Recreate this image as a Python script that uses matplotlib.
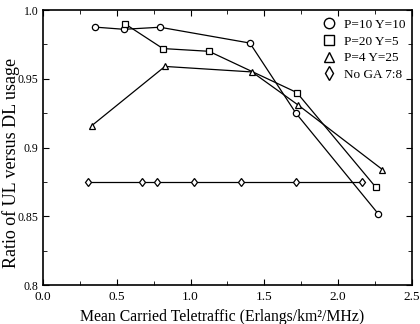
import matplotlib.pyplot as plt
from matplotlib.lines import Line2D
from matplotlib.ticker import MultipleLocator, FormatStrFormatter

plt.rcParams['font.family'] = ['Liberation Serif', 'DejaVu Serif']

# Data
p10_x = [0.352, 0.549, 0.793, 1.402, 1.714, 2.27]
p10_y = [0.9876, 0.986, 0.9875, 0.976, 0.925, 0.852]

p20_x = [0.556, 0.813, 1.125, 1.72, 2.256]
p20_y = [0.990, 0.972, 0.970, 0.940, 0.871]

p4_x = [0.332, 0.827, 1.416, 1.728, 2.30]
p4_y = [0.916, 0.959, 0.955, 0.931, 0.884]

noga_x = [0.305, 0.67, 0.774, 1.025, 1.34, 1.714, 2.16]
noga_y = [0.875, 0.875, 0.875, 0.875, 0.875, 0.875, 0.875]

labels = ['P=10 Y=10', 'P=20 Y=5', 'P=4 Y=25', 'No GA 7:8']
markers = ['o', 's', '^', 'd']
y_ticks = [0.8, 0.85, 0.9, 0.95, 1.0]
y_ticklabels = ['0.8', '0.85', '0.9', '0.95', '1.0']

fig = plt.figure(figsize=(4.2, 3.24), dpi=100)
ax = fig.add_axes([0.102, 0.12, 0.879, 0.849])

series = [(p10_x, p10_y), (p20_x, p20_y), (p4_x, p4_y), (noga_x, noga_y)]
for (x, y), m in zip(series, markers):
    ax.plot(x, y, color='black', lw=0.9, marker=m, ms=4.5,
            mfc='white', mec='black', mew=0.9)

handles = [Line2D([], [], ls='none', marker=m, ms=7.5, mfc='white',
                  mec='black', mew=1.0) for m in markers]
ax.legend(handles, labels, loc='upper right', frameon=False, fontsize=9.5,
          handletextpad=0.5, handlelength=1.2, labelspacing=0.34,
          borderaxespad=0.25, bbox_to_anchor=(1.005, 1.0))

ax.set_xlim(0, 2.5)
ax.set_ylim(0.8, 1.0)
ax.xaxis.set_major_locator(MultipleLocator(0.5))
ax.xaxis.set_minor_locator(MultipleLocator(0.25))
ax.yaxis.set_minor_locator(MultipleLocator(0.025))
ax.xaxis.set_major_formatter(FormatStrFormatter('%.1f'))
ax.set_yticks(y_ticks)
ax.set_yticklabels(y_ticklabels)
ax.tick_params(which='both', direction='in', top=True, right=True)
ax.tick_params(axis='x', labelsize=9.5, pad=4)
ax.tick_params(axis='y', labelsize=8.5, pad=3)
ax.tick_params(which='major', length=4)
ax.tick_params(which='minor', length=3)
for s in ax.spines.values():
    s.set_linewidth(1.2)

ax.set_xlabel('Mean Carried Teletraffic (Erlangs/km²/MHz)', fontsize=11.3)
ax.xaxis.set_label_coords(0.485, -0.085)
ax.set_ylabel('Ratio of UL versus DL usage', fontsize=13)
ax.yaxis.set_label_coords(-0.063, 0.444)

fig.savefig('out.png', dpi=100)
